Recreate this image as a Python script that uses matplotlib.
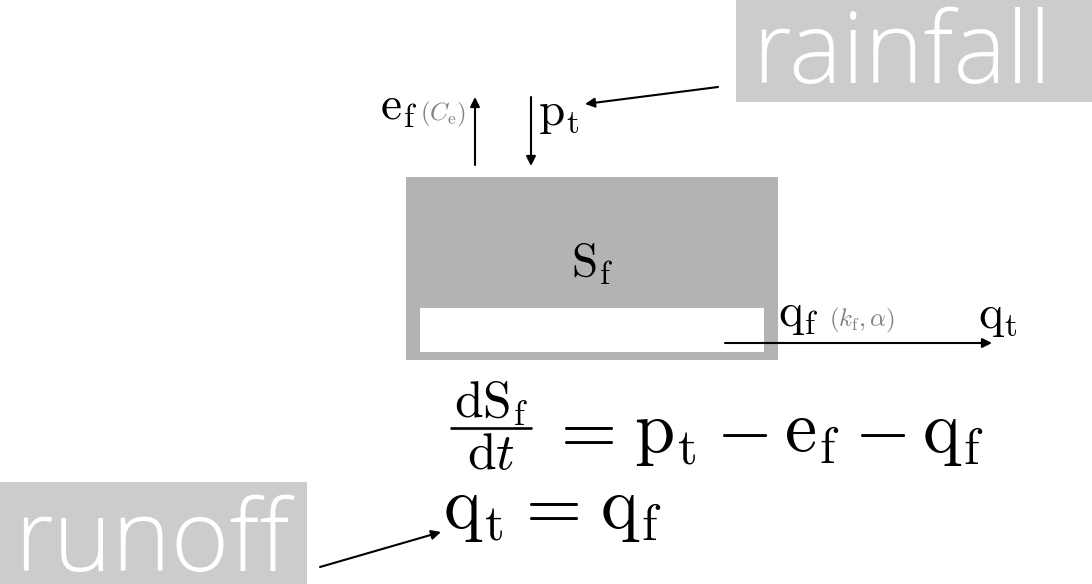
import matplotlib
matplotlib.use("Agg")
import matplotlib.pyplot as plt
from matplotlib.patches import Rectangle, FancyArrowPatch

plt.rcParams['mathtext.fontset'] = 'cm'

W, H = 1092, 584
# Diagram elements (pixel space)
store_box = (406, 177, 372, 183)        # x, y, w, h
inner_box = (420, 308, 344, 44)
rain_box = (736, 0, 356, 102)
runoff_box = (0, 482, 307, 102)

arrows = [
    ((718, 87), (585, 104)),   # rainfall -> pt
    ((475, 165), (475, 97)),   # ef up
    ((531, 97), (531, 166)),   # pt down
    ((725, 343), (992, 343)),  # qf -> qt
    ((320, 567), (441, 532)),  # runoff -> qt=qf
]

# equation pieces: (text, left x, baseline y)
eq1_pieces = [
    (r'$=$', 548, 452),
    (r'$\mathrm{p}_\mathrm{t}$', 634, 452),
    (r'$-$', 716, 452),
    (r'$\mathrm{e}_\mathrm{f}$', 784, 452),
    (r'$-$', 854, 452),
    (r'$\mathrm{q}_\mathrm{f}$', 922, 452),
]
eq2_pieces = [
    (r'$\mathrm{q}_\mathrm{t}$', 443, 528),
    (r'$=$', 513, 528),
    (r'$\mathrm{q}_\mathrm{f}$', 600, 528),
]

fig = plt.figure(figsize=(W / 100, H / 100), dpi=100)
ax = fig.add_axes([0, 0, 1, 1])
ax.set_xlim(0, W)
ax.set_ylim(H, 0)
ax.axis('off')

ax.add_patch(Rectangle(store_box[:2], store_box[2], store_box[3], color='#b3b3b3', lw=0))
ax.add_patch(Rectangle(inner_box[:2], inner_box[2], inner_box[3], color='white', lw=0))
ax.add_patch(Rectangle(rain_box[:2], rain_box[2], rain_box[3], color='#cccccc', lw=0))
ax.add_patch(Rectangle(runoff_box[:2], runoff_box[2], runoff_box[3], color='#cccccc', lw=0))

for (x0, y0), (x1, y1) in arrows:
    ax.add_patch(FancyArrowPatch((x0, y0), (x1, y1), arrowstyle='-|>',
                                 mutation_scale=14, lw=1.5, color='black',
                                 shrinkA=0, shrinkB=0))

ax.text(902, 83, 'rainfall', color='white', fontsize=72, family='Open Sans',
        fontweight='light', ha='center', va='baseline')
ax.text(152, 571, 'runoff', color='white', fontsize=72, family='Open Sans',
        fontweight='light', ha='center', va='baseline')

LBL = 34
ax.text(417, 120, r'$\mathrm{e}_\mathrm{f}$', fontsize=LBL, ha='right', va='baseline')
ax.text(420, 120, r'$(C_\mathrm{e})$', fontsize=18, color='#808080', ha='left', va='baseline')
ax.text(538, 125, r'$\mathrm{p}_\mathrm{t}$', fontsize=LBL, ha='left', va='baseline')
ax.text(592, 277, r'$\mathrm{S}_\mathrm{f}$', fontsize=34, ha='center', va='baseline')
ax.text(778, 326, r'$\mathrm{q}_\mathrm{f}$', fontsize=LBL, ha='left', va='baseline')
ax.text(829, 326, r'$(k_\mathrm{f},\alpha)$', fontsize=18, color='#808080', ha='left', va='baseline')
ax.text(978, 328, r'$\mathrm{q}_\mathrm{t}$', fontsize=LBL, ha='left', va='baseline')

# fraction dS_f / dt
ax.text(491, 417, r'$\mathrm{dS_f}$', fontsize=37, ha='center', va='baseline')
ax.plot([450, 532], [428, 428], color='black', lw=1.9, solid_capstyle='butt')
ax.text(491, 469, r'$\mathrm{d}t$', fontsize=37, ha='center', va='baseline')

for txt, x, y in eq1_pieces + eq2_pieces:
    ax.text(x, y, txt, fontsize=52, ha='left', va='baseline')

fig.savefig('out.png', dpi=100)
